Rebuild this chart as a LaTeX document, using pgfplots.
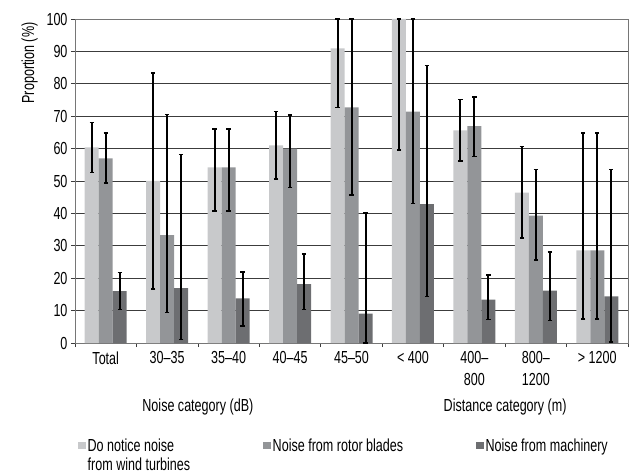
\documentclass[border=0pt]{standalone}
\usepackage{fontspec}
\setmainfont{Liberation Sans}[FakeStretch=0.72]
\usepackage{pgfplots}
\pgfplotsset{compat=1.18}
\usepackage{pgfplotstable}
\definecolor{cA}{HTML}{C8C9CB}
\definecolor{cB}{HTML}{939598}
\definecolor{cC}{HTML}{6D6E71}
\definecolor{gridc}{HTML}{3C3C3C}

\pgfplotstableread{
x y ep em
0 60.4 7.6 7.8
1 50.0 33.3 33.3
2 54.2 11.9 13.5
3 61.0 10.4 10.4
4 90.9 9.1 18.2
5 100 0 40.4
6 65.6 9.5 9.4
7 46.4 14.2 13.9
8 28.6 36.3 21.1
}\tA
\pgfplotstableread{
x y ep em
0 57.0 7.8 7.7
1 33.3 37.2 23.9
2 54.2 11.9 13.5
3 60.0 10.3 12.0
4 72.7 27.3 27.1
5 71.4 28.6 28.4
6 66.9 9.1 9.4
7 39.3 14.2 13.7
8 28.6 36.3 21.1
}\tB
\pgfplotstableread{
x y ep em
0 16.0 5.8 5.6
1 16.9 41.3 15.8
2 13.8 8.2 8.6
3 18.2 9.2 7.8
4 9.1 31.0 9.1
5 42.9 42.8 28.5
6 13.4 7.5 6.2
7 16.2 11.8 9.2
8 14.4 39.1 14.0
}\tC

\begin{document}
\begin{tikzpicture}
\begin{axis}[
  name=ax,
  width=553bp, height=324bp, scale only axis,
  xmin=-0.5, xmax=8.5, ymin=0, ymax=100,
  ybar=0pt, bar width=14bp,
  clip=false,
  xtick={-0.5,0.5,...,8.5},
  x tick label as interval,
  xticklabels={Total,30–35,35–40,40–45,45–50,{< 400},{400–\\800},{800–\\1200},{> 1200}},
  xticklabel style={align=center, font=\fontsize{17.5}{22}\selectfont, yshift=-1bp},
  ytick={0,10,...,100},
  yticklabel style={font=\fontsize{17.5}{18}\selectfont},
  /pgf/number format/assume math mode=true,
  tick align=outside,
  xtick pos=bottom, ytick pos=left,
  major tick length=4bp,
  tick style={draw=gridc, line width=0.7bp},
  ymajorgrids,
  grid style={draw=gridc, line width=0.8bp},
  axis line style={draw=gridc!70, line width=0.8bp},
  ylabel={Proportion (\%)},
  ylabel style={font=\fontsize{17.5}{18}\selectfont, at={(ticklabel cs:1)}, anchor=south east, yshift=2bp},
  error bars/error bar style={black, line width=2bp},
  error bars/error mark options={black, rotate=90, mark size=2.2bp, line width=1.6bp},
  legend columns=3,
  legend image code/.code={\fill[#1] (0bp,2.5bp) rectangle (7.5bp,10bp);},
  legend style={draw=none, fill=none, font=\fontsize{17.5}{19.5}\selectfont,
    at={(axis description cs:0,-0.28)}, anchor=north west,
    cells={anchor=base west},
    /tikz/every even column/.append style={column sep=71bp}},
]
\addplot[fill=cA, draw=none, error bars/.cd, y dir=both, y explicit]
  table[x=x, y=y, y error plus=ep, y error minus=em]{\tA};
\addlegendentry{\begin{tabular}[t]{@{}l@{}}Do notice noise\\from wind turbines\end{tabular}}
\addplot[fill=cB, draw=none, error bars/.cd, y dir=both, y explicit]
  table[x=x, y=y, y error plus=ep, y error minus=em]{\tB};
\addlegendentry{Noise from rotor blades}
\addplot[fill=cC, draw=none, error bars/.cd, y dir=both, y explicit]
  table[x=x, y=y, y error plus=ep, y error minus=em]{\tC};
\addlegendentry{Noise from machinery}
\node[font=\fontsize{17.5}{18}\selectfont, anchor=base] at (axis cs:1.5,-21) {Noise category (dB)};
\node[font=\fontsize{17.5}{18}\selectfont, anchor=base] at (axis cs:6.5,-21) {Distance category (m)};
\end{axis}
\path (ax.south west) ++(-75bp,-131bp);
\path (ax.north east) ++(10bp,19bp);
\end{tikzpicture}
\end{document}
